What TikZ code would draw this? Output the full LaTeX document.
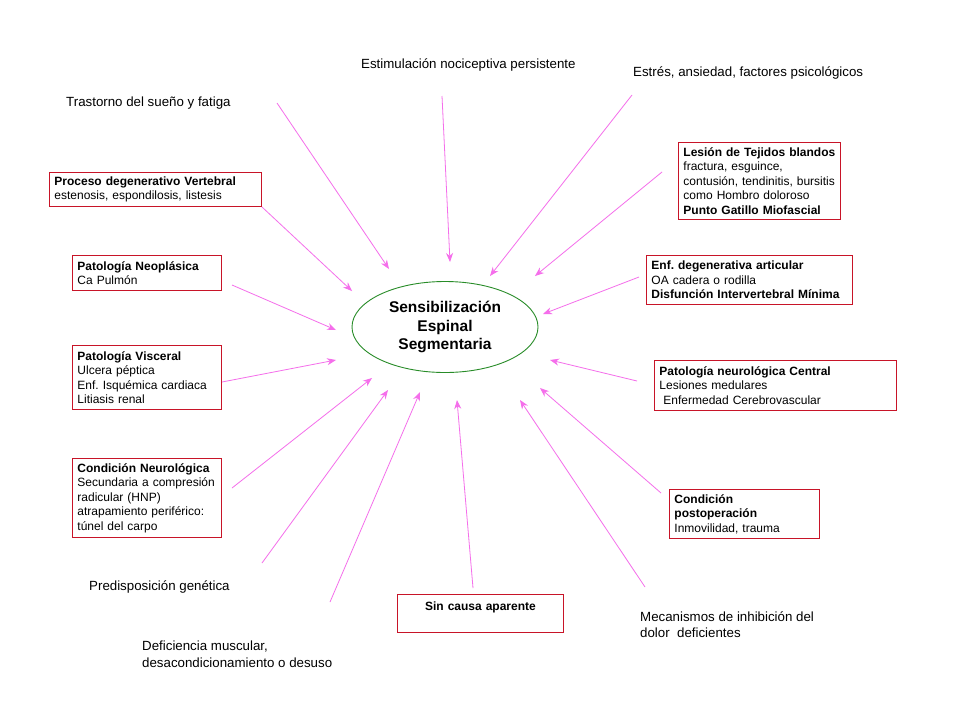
\documentclass[tikz,border=0pt]{standalone}
\usepackage{fontspec}
\setmainfont{Liberation Sans}
\frenchspacing
\usetikzlibrary{shapes.geometric,arrows.meta}
\definecolor{boxred}{RGB}{200,20,40}
\definecolor{ellgreen}{RGB}{40,140,40}
\definecolor{arrpink}{RGB}{245,110,235}
\tikzset{
  causebox/.style={draw=boxred, line width=0.9pt, anchor=north west, align=left,
    inner xsep=5pt, inner ysep=3.5pt, font=\fontsize{12}{14.5}\selectfont\frenchspacing},
  freelabel/.style={anchor=north west, align=left, inner sep=0pt,
    font=\fontsize{13.3}{16.5}\selectfont},
  cause/.style={draw=arrpink, line width=0.8pt, -{Stealth[length=9pt,width=7pt]}},
  center/.style={ellipse, draw=ellgreen, line width=0.9pt, minimum width=186pt,
    minimum height=91pt, inner sep=0pt, align=center,
    font=\fontsize{15.5}{18.5}\selectfont\bfseries}
}
\begin{document}
\begin{tikzpicture}[x=1pt,y=-1pt]
\fill[white] (0,0) rectangle (960,720);
\useasboundingbox (0,0) rectangle (960,720);

\node[center] (ssc) at (445,327) {Sensibilización\\Espinal\\Segmentaria};

% free labels
\node[freelabel] (estim) at (361,59) {Estimulación nociceptiva persistente};
\node[freelabel] (estres) at (633,67) {Estrés, ansiedad, factores psicológicos};
\node[freelabel] (sueno) at (66,97) {Trastorno del sueño y fatiga};
\node[freelabel] (genet) at (89,580) {Predisposición genética};
\node[freelabel] (defic) at (142,641) {Deficiencia muscular,\\desacondicionamiento o desuso};
\node[freelabel] (mecan) at (640,611) {Mecanismos de inhibición del\\dolor\ \ deficientes};

% boxes
\node[causebox, text width=202pt, minimum height=34pt] (proc) at (49,172) {\textbf{Proceso degenerativo Vertebral}\\estenosis, espondilosis, listesis};
\node[causebox, text width=139pt, minimum height=35pt] (neo) at (72,255) {\textbf{Patología Neoplásica}\\Ca Pulmón};
\node[causebox, text width=139pt, minimum height=64pt] (visc) at (72,345) {\textbf{Patología Visceral}\\Ulcera péptica\\Enf. Isquémica cardiaca\\Litiasis renal};
\node[causebox, text width=139pt, minimum height=79pt] (neuro) at (72,458) {\textbf{Condición Neurológica}\\Secundaria a compresión\\radicular (HNP)\\atrapamiento periférico:\\túnel del carpo};
\node[causebox, text width=156pt, align=center, minimum height=38pt] (sin) at (397,594) {\textbf{Sin causa aparente}\\\mbox{}};
\node[causebox, text width=152pt, minimum height=77pt] (lesion) at (678,142) {\textbf{Lesión de Tejidos blandos}\\fractura, esguince,\\contusión, tendinitis, bursitis\\como Hombro doloroso\\\textbf{Punto Gatillo Miofascial}};
\node[causebox, text width=196pt, minimum height=49pt] (enf) at (646,255) {\textbf{Enf. degenerativa articular}\\OA cadera o rodilla\\\textbf{Disfunción Intervertebral Mínima}};
\node[causebox, text width=232pt, minimum height=50pt] (central) at (654,360) {\textbf{Patología neurológica Central}\\Lesiones medulares\\\ Enfermedad Cerebrovascular};
\node[causebox, text width=140pt, minimum height=49pt] (postop) at (669,489) {\textbf{Condición}\\\textbf{postoperación}\\Inmovilidad, trauma};

% connector ends
\coordinate (s1) at (277,103);  \coordinate (e1) at (389,269);
\coordinate (s2) at (442,96);   \coordinate (e2) at (450,262);
\coordinate (s3) at (632,95);   \coordinate (e3) at (490,276);
\coordinate (s4) at (662,172);  \coordinate (e4) at (535,276);
\coordinate (s5) at (262,207);  \coordinate (e5) at (352,291);
\coordinate (s6) at (232,285);  \coordinate (e6) at (336,330);
\coordinate (s7) at (639,277);  \coordinate (e7) at (543,314);
\coordinate (s8) at (222,382);  \coordinate (e8) at (336,360);
\coordinate (s9) at (637,381);  \coordinate (e9) at (550,360);
\coordinate (s10) at (232,488); \coordinate (e10) at (372,378);
\coordinate (s11) at (661,493); \coordinate (e11) at (540,388);
\coordinate (s12) at (262,563); \coordinate (e12) at (388,390);
\coordinate (s13) at (330,602); \coordinate (e13) at (420,392);
\coordinate (s14) at (473,588); \coordinate (e14) at (457,400);
\coordinate (s15) at (645,587); \coordinate (e15) at (520,400);

\foreach \i in {1,...,15} {\draw[cause] (s\i) -- (e\i);}
\end{tikzpicture}
\end{document}
